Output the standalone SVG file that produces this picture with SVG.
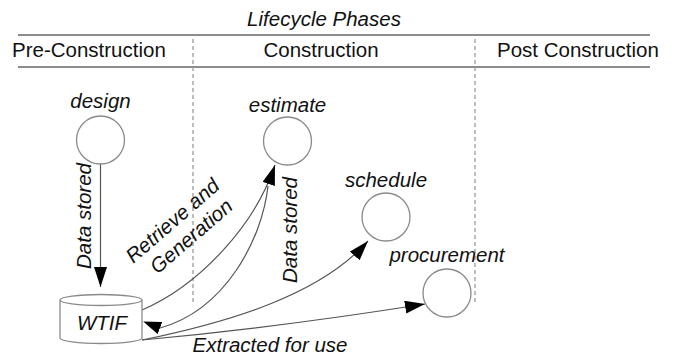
<svg xmlns="http://www.w3.org/2000/svg" width="675" height="358" viewBox="0 0 675 358">
<style>
text{font-family:"Liberation Sans",Arial,sans-serif;font-size:20.5px;fill:#111}
.it{font-style:italic}
.hdr{stroke:#8c8c8c;stroke-width:2.2;fill:none}
.dash{stroke:#9a9a9a;stroke-width:1.3;stroke-dasharray:4 3;fill:none}
.node{fill:#fff;stroke:#8a8a8a;stroke-width:1.3}
.conn{fill:none;stroke:#555;stroke-width:1.2}
</style>
<defs>
<marker id="arr" markerUnits="userSpaceOnUse" viewBox="0 0 20 13" refX="20" refY="6.5" markerWidth="20" markerHeight="13" orient="auto">
<path d="M0,0 L20,6.5 L0,13 z" fill="#000"/>
</marker>
<marker id="arrFix" markerUnits="userSpaceOnUse" viewBox="0 0 18 13" refX="0" refY="6.5" markerWidth="18" markerHeight="13" orient="201">
<path d="M0,0 L18,6.5 L0,13 z" fill="#000"/>
</marker>
</defs>
<rect width="675" height="358" fill="#fff"/>
<g id="header">
<text class="it" x="324" y="26" text-anchor="middle">Lifecycle Phases</text>
<line class="hdr" x1="18" y1="35" x2="650" y2="35"/>
<line class="hdr" x1="18" y1="67" x2="650" y2="67"/>
<text x="12" y="57">Pre-Construction</text>
<text x="321" y="57" text-anchor="middle">Construction</text>
<text x="497" y="57">Post Construction</text>
<line class="dash" x1="193" y1="39" x2="193" y2="303"/>
<line class="dash" x1="475" y1="39" x2="475" y2="305"/>
</g>
<g id="connectors">
<line class="conn" x1="100.5" y1="164" x2="100.5" y2="287" marker-end="url(#arr)"/>
<text class="it" transform="translate(91,216) rotate(-90)" text-anchor="middle">Data stored</text>
<path class="conn" d="M142,310 C200,285 255,225 275,165" marker-end="url(#arr)"/>
<path class="conn" d="M268,186 C262,240 225,310 160,328" marker-end="url(#arrFix)"/>
<g transform="translate(177,226) rotate(-41)">
<text class="it" x="0" y="0" text-anchor="middle">Retrieve and</text>
<text class="it" x="4" y="24" text-anchor="middle">Generation</text>
</g>
<text class="it" transform="translate(297,230) rotate(-90)" text-anchor="middle">Data stored</text>
<path class="conn" d="M142,340 C230,322 320,295 368,241" marker-end="url(#arr)"/>
<path class="conn" d="M142,340 C250,330 350,316 425,304" marker-end="url(#arr)"/>
<text class="it" x="270" y="352" text-anchor="middle">Extracted for use</text>
</g>
<g id="design">
<circle class="node" cx="100.5" cy="140" r="24"/>
<text class="it" x="100.5" y="108" text-anchor="middle">design</text>
</g>
<g id="estimate">
<circle class="node" cx="287.5" cy="141" r="24"/>
<text class="it" x="287.5" y="112" text-anchor="middle">estimate</text>
</g>
<g id="schedule">
<circle class="node" cx="386" cy="217" r="24"/>
<text class="it" x="386" y="187" text-anchor="middle">schedule</text>
</g>
<g id="procurement">
<circle class="node" cx="447" cy="293" r="24"/>
<text class="it" x="447" y="262" text-anchor="middle">procurement</text>
</g>
<g id="wtif">
<path class="node" d="M60,300 L60,338 A41,5.5 0 0 0 142,338 L142,300"/>
<ellipse class="node" cx="101" cy="300" rx="41" ry="5.5"/>
<text class="it" x="102" y="330" text-anchor="middle">WTIF</text>
</g>
</svg>
